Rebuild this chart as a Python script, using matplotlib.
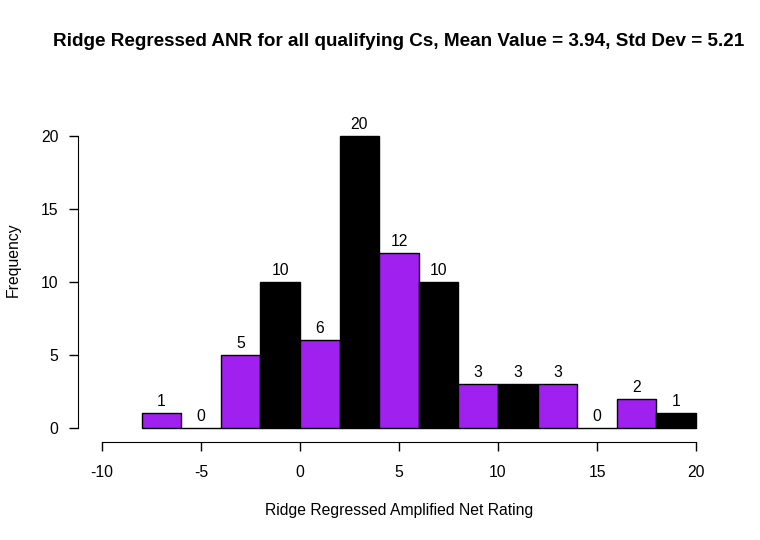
import numpy as np
from matplotlib import pyplot as plt

plt.rcParams['font.family'] = ['Liberation Sans', 'DejaVu Sans']

bin_edges = [-8, -6, -4, -2, 0, 2, 4, 6, 8, 10, 12, 14, 16, 18, 20]
counts = [1, 0, 5, 10, 6, 20, 12, 10, 3, 3, 3, 0, 2, 1]
bar_colors = ['#A020F0', 'black']

title = "Ridge Regressed ANR for all qualifying Cs, Mean Value = 3.94, Std Dev = 5.21"
x_label = "Ridge Regressed Amplified Net Rating"
y_label = "Frequency"
x_ticks = [-10, -5, 0, 5, 10, 15, 20]
y_ticks = [0, 5, 10, 15, 20]

W, H = 760, 540
fs = 11.3
fig = plt.figure(figsize=(W / 100, H / 100), dpi=100)
# axes placed in pixel coords: x -10..20 -> px 102..696, y 0..20 -> px 428..136
ax = fig.add_axes([102 / W, (H - 428) / H, (696 - 102) / W, (428 - 136) / H])
ax.set_xlim(-10, 20)
ax.set_ylim(0, 20)

lefts = np.array(bin_edges[:-1])
widths = np.diff(bin_edges)
colors = [bar_colors[i % 2] for i in range(len(counts))]
ax.bar(lefts, counts, width=widths, align='edge', color=colors,
       edgecolor='black', linewidth=1.0, clip_on=False)

for x, w, c in zip(lefts, widths, counts):
    ax.annotate(str(c), (x + w / 2, c), xytext=(0, 3), textcoords='offset points',
                ha='center', va='bottom', fontsize=fs, annotation_clip=False)

for side in ['top', 'right']:
    ax.spines[side].set_visible(False)
ax.spines['bottom'].set_position(('outward', 10))
ax.spines['left'].set_position(('outward', 17))
ax.spines['bottom'].set_bounds(-10, 20)
ax.spines['left'].set_bounds(0, 20)

ax.set_xticks(x_ticks)
ax.set_xticklabels([str(t) for t in x_ticks])
ax.set_yticks(y_ticks)
ax.set_yticklabels([str(t) for t in y_ticks])
ax.tick_params(axis='both', length=6.5, width=1, labelsize=fs, colors='black')
ax.tick_params(axis='x', pad=10)
ax.tick_params(axis='y', pad=8)

ax.set_xlabel(x_label, fontsize=fs)
ax.xaxis.set_label_coords(0.5, -(510 - 428) / 292, transform=ax.transAxes)
ax.xaxis.label.set_va('center')
ax.set_ylabel(y_label, fontsize=fs)
ax.yaxis.set_label_coords(-(102 - 13) / 594, (428 - 260) / 292, transform=ax.transAxes)
ax.yaxis.label.set_va('center')
fig.text(399 / W, 1 - 42 / H, title, ha='center', va='center',
         fontsize=13.6, fontweight='bold')

plt.savefig("out.png", dpi=100)
